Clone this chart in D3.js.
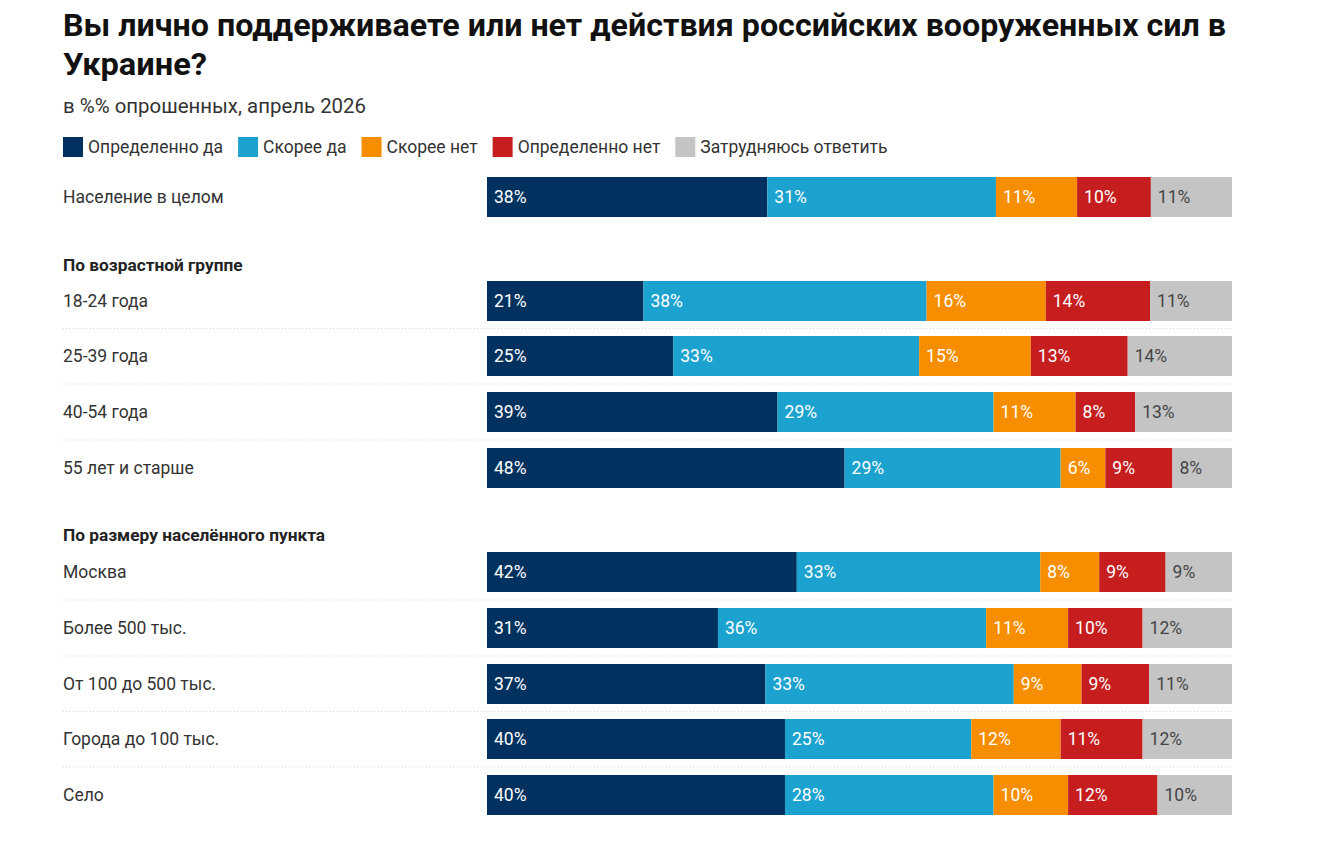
<!DOCTYPE html>
<html>
<head>
<meta charset="utf-8">
<script src="https://cdn.jsdelivr.net/npm/d3@7"></script>
<style>
  body { margin: 0; background: #fff; font-family: Roboto, "Noto Sans", sans-serif; }
</style>
</head>
<body>
<div id="chart"></div>
<script>
// data
var categories = ["Определенно да", "Скорее да", "Скорее нет", "Определенно нет", "Затрудняюсь ответить"];
var colors = ["#01325f", "#1ba2cf", "#f78e00", "#c61d1f", "#c4c4c4"];

var rowLabels = ["Население в целом",
  "18-24 года", "25-39 года", "40-54 года", "55 лет и старше",
  "Москва", "Более 500 тыс.", "От 100 до 500 тыс.", "Города до 100 тыс.", "Село"];
var rowGroup = [0, 1, 1, 1, 1, 2, 2, 2, 2, 2];
var groupTitles = ["", "По возрастной группе", "По размеру населённого пункта"];

var defYes   = [38, 21, 25, 39, 48, 42, 31, 37, 40, 40];
var ratherYes = [31, 38, 33, 29, 29, 33, 36, 33, 25, 28];
var ratherNo = [11, 16, 15, 11, 6, 8, 11, 9, 12, 10];
var defNo    = [10, 14, 13, 8, 9, 9, 10, 9, 11, 12];
var hard     = [11, 11, 14, 13, 8, 9, 12, 11, 12, 10];

var series = [defYes, ratherYes, ratherNo, defNo, hard];

var W = 1331, H = 847;
var svg = d3.select("#chart").append("svg")
  .attr("width", W).attr("height", H);

var left = 63, barX0 = 487, barX1 = 1232, barH = 40;

// title
svg.append("text").attr("x", left).attr("y", 36)
  .attr("font-size", 31).attr("font-weight", 700).attr("fill", "#111")
  .attr("textLength", 1163).attr("lengthAdjust", "spacingAndGlyphs")
  .text("Вы лично поддерживаете или нет действия российских вооруженных сил в");
svg.append("text").attr("x", left).attr("y", 75)
  .attr("font-size", 31).attr("font-weight", 700).attr("fill", "#111")
  .attr("textLength", 144).attr("lengthAdjust", "spacingAndGlyphs")
  .text("Украине?");
svg.append("text").attr("x", left).attr("y", 113)
  .attr("font-size", 20).attr("fill", "#333")
  .attr("textLength", 303).attr("lengthAdjust", "spacingAndGlyphs")
  .text("в %% опрошенных, апрель 2026");

// legend
var lg = svg.append("g").attr("transform", "translate(" + left + ",137)");
var lx = 0;
categories.forEach(function(c, i) {
  var g = lg.append("g").attr("transform", "translate(" + lx + ",0)");
  g.append("rect").attr("width", 20).attr("height", 20).attr("fill", colors[i]);
  var t = g.append("text").attr("x", 25).attr("y", 16)
    .attr("font-size", 17.5).attr("fill", "#333").text(c);
  lx += 25 + t.node().getComputedTextLength() + 15;
});

// row positions
var rowY = [197, 301, 356, 412, 468, 572, 628, 684, 739, 795];
var headerY = [null, 265, 535];

groupTitles.forEach(function(t, i) {
  if (!t) return;
  svg.append("text").attr("x", left).attr("y", headerY[i] + 6)
    .attr("font-size", 17.3).attr("font-weight", 700).attr("fill", "#222")
    .text(t);
});

rowLabels.forEach(function(label, r) {
  var vals = series.map(function(s) { return s[r]; });
  var total = d3.sum(vals);
  var x = d3.scaleLinear().domain([0, total]).range([barX0, barX1]);
  var cy = rowY[r];

  // dotted separator to next row of same group
  if (r + 1 < rowLabels.length && rowGroup[r + 1] === rowGroup[r]) {
    var sy = (rowY[r] + rowY[r + 1]) / 2;
    svg.append("line").attr("x1", left).attr("x2", barX1)
      .attr("y1", sy).attr("y2", sy)
      .attr("stroke", "#d4d4d4").attr("stroke-width", 1)
      .attr("stroke-dasharray", "1,2");
  }

  svg.append("text").attr("x", left).attr("y", cy + 6)
    .attr("font-size", 17.5).attr("fill", "#333").text(label);

  var acc = 0;
  vals.forEach(function(v, i) {
    var x0 = x(acc), x1 = x(acc + v);
    svg.append("rect").attr("x", x0).attr("y", cy - barH / 2)
      .attr("width", x1 - x0).attr("height", barH)
      .attr("fill", colors[i]);
    svg.append("text").attr("x", x0 + 7).attr("y", cy + 6)
      .attr("font-size", 17.5)
      .attr("fill", i === 4 ? "#444" : "#fff")
      .text(v + "%");
    acc += v;
  });
});
</script>
</body>
</html>
